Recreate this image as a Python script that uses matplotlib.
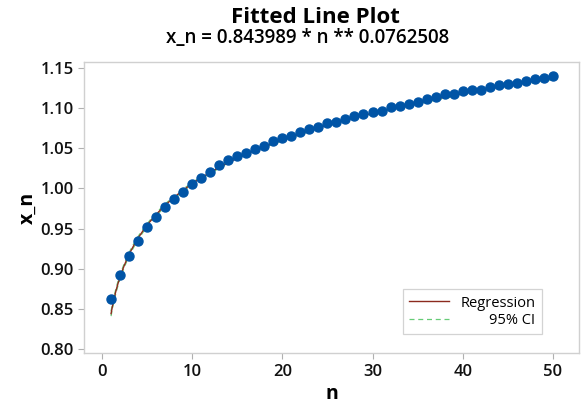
import numpy as np
import matplotlib
matplotlib.use("Agg")
from matplotlib import pyplot as plt

# values
n = np.arange(1, 51)
x_n = [0.862, 0.892, 0.916, 0.935, 0.952, 0.965, 0.977, 0.987, 0.996, 1.005,
       1.013, 1.020, 1.029, 1.035, 1.040, 1.044, 1.049, 1.053, 1.059, 1.063,
       1.066, 1.070, 1.074, 1.077, 1.081, 1.083, 1.087, 1.090, 1.093, 1.095,
       1.097, 1.101, 1.103, 1.105, 1.108, 1.112, 1.114, 1.118, 1.118, 1.121,
       1.123, 1.123, 1.127, 1.129, 1.130, 1.132, 1.134, 1.136, 1.138, 1.140]
coef_a = 0.843989
coef_b = 0.0762508
xticks = [0, 10, 20, 30, 40, 50]
yticks = [0.80, 0.85, 0.90, 0.95, 1.00, 1.05, 1.10, 1.15]

plt.rcParams['font.family'] = ['Open Sans', 'DejaVu Sans']

fig = plt.figure(figsize=(5.85, 4.04), dpi=100)
ax = fig.add_axes([0.1436, 0.1255, 0.8461, 0.7218])

# fitted model and a 95% CI on the log scale
nn = np.linspace(1, 50, 300)
fit = coef_a * nn ** coef_b
lx, ly = np.log(n), np.log(x_n)
resid = ly - (np.log(coef_a) + coef_b * lx)
s = np.sqrt(np.sum(resid ** 2) / (len(n) - 2))
se = s * np.sqrt(1 / len(n) + (np.log(nn) - lx.mean()) ** 2 / np.sum((lx - lx.mean()) ** 2))
lo = fit * np.exp(-2.011 * se)
hi = fit * np.exp(2.011 * se)

ax.plot(nn, lo, color='#66cc77', lw=0.9, ls=(0, (4, 3)), label='95% CI', zorder=2)
ax.plot(nn, hi, color='#66cc77', lw=0.9, ls=(0, (4, 3)), zorder=2)
ax.plot(nn, fit, color='#8c2a1e', lw=1.0, label='Regression', zorder=3)
ax.plot(n, x_n, 'o', color='#0054a6', ms=6.5, zorder=4)

ax.set_xlim(-2, 52.9)
ax.set_ylim(0.7946, 1.158)
ax.set_xticks(xticks)
ax.set_yticks(yticks)
ax.set_yticklabels([f"{v:.2f}" for v in yticks])
for sp in ax.spines.values():
    sp.set_color('#d0d0d0')
    sp.set_linewidth(1.0)
ax.tick_params(colors='#b0b0b0', labelcolor='#111111', labelsize=12, length=4, width=0.8)
for lab in ax.get_xticklabels() + ax.get_yticklabels():
    lab.set_fontweight('semibold')

ax.set_xlabel('n', fontsize=14, fontweight='bold', labelpad=3)
ax.set_ylabel('x_n', fontsize=14, fontweight='bold', labelpad=2)

fig.text(0.54, 0.957, 'Fitted Line Plot', ha='center', va='center', fontsize=16, fontweight='bold')
fig.text(0.525, 0.905, 'x_n = 0.843989 * n ** 0.0762508', ha='center', va='center',
         fontsize=13.5, fontweight='semibold')

handles, labels = ax.get_legend_handles_labels()
leg = ax.legend(handles[::-1], labels[::-1], loc='lower right', bbox_to_anchor=(0.94, 0.04),
                fontsize=10.5, frameon=True, fancybox=False, edgecolor='#c8c8c8',
                handlelength=2.7, borderpad=0.45, labelspacing=0.15, handletextpad=0.8)
leg.get_frame().set_linewidth(0.9)
fig.canvas.draw()
renderer = fig.canvas.get_renderer()
texts = leg.get_texts()
wmax = max(t.get_window_extent(renderer).width for t in texts)
for t in texts:
    w = t.get_window_extent(renderer).width
    t.set_position((wmax - w, 0))

fig.savefig('out.png', dpi=100)
